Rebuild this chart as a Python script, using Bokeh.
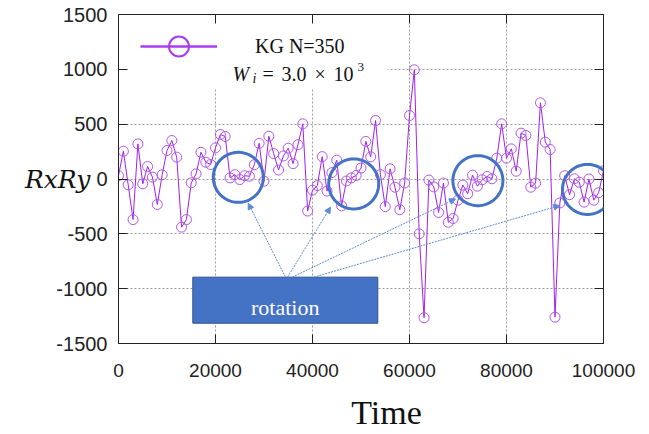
import math
from bokeh.plotting import figure
from bokeh.models import (Range1d, LinearAxis, FixedTicker, BoxAnnotation, Label, Legend,
                          LegendItem, Arrow, NormalHead, ColumnDataSource, PolyAnnotation)
from bokeh.embed import file_html
from bokeh.resources import INLINE

# ---------------- data ----------------
time = list(range(0, 100001, 1000))
rxry = [30, 253, -53, -370, 320, -44, 114, 17, -232, 38,
        260, 351, 199, -439, -370, -35, 47, 244, 153, 132,
        284, 406, 388, 10, 40, -5, 30, 25, 130, 325,
        -20, 390, 232, 82, 210, 281, 140, 313, 503, -292,
        -102, -60, 204, -110, 58, 172, -245, -18, 10, 32,
        100, 343, 202, 533, 40, -252, 93, -75, -280, -36,
        579, 996, -500, -1265, -10, -72, -305, -37, -395, -360,
        -193, -55, -135, 35, -65, -7, 23, 2, 190, 503,
        190, 275, 71, 418, 397, -75, -38, 695, 336, 269,
        -1260, -218, 30, -143, 2, -29, -211, 0, -193, -125, 75]
x_ticks = [0, 20000, 40000, 60000, 80000, 100000]
y_ticks = [-1500, -1000, -500, 0, 500, 1000, 1500]
x_title = "Time"
y_title = "RxRy"
series_label = "KG N=350"
annotation_text = "rotation"
# rotation windows (centres of the blue rings)
ring_x = [24700, 48500, 74100, 96700]
ring_y = [15, -45, -15, -95]

# ---------------- figure ----------------
p = figure(width=649, height=434, x_range=Range1d(0, 100000), y_range=Range1d(-1500, 1500),
           output_backend="svg", toolbar_location=None,
           min_border_left=118, min_border_right=46, min_border_top=14, min_border_bottom=91,
           background_fill_color="white", border_fill_color="white")
p.outline_line_color = "#222222"
p.outline_line_width = 1

xt = FixedTicker(ticks=x_ticks)
yt = FixedTicker(ticks=y_ticks)

def style_axis(ax, font_size, standoff):
    ax.axis_line_color = "#222222"
    ax.major_tick_line_color = "#222222"
    ax.major_tick_in = 9
    ax.major_tick_out = 0
    ax.minor_tick_in = 0
    ax.minor_tick_out = 0
    ax.major_label_text_font = "Liberation Sans"
    ax.major_label_text_font_size = font_size
    ax.major_label_text_color = "#222222"
    ax.major_label_standoff = standoff

xa = p.xaxis[0]
ya = p.yaxis[0]
xa.ticker = xt
ya.ticker = yt
xa.major_label_overrides = {t: str(t) for t in x_ticks}
ya.major_label_overrides = {t: str(t) for t in y_ticks}
style_axis(xa, "19px", 20)
style_axis(ya, "20px", 11)

xa.axis_label = "\u00a0" * 6 + x_title
xa.axis_label_text_font = "Liberation Serif"
xa.axis_label_text_font_size = "34px"
xa.axis_label_text_font_style = "normal"
xa.axis_label_text_color = "#111111"
xa.axis_label_standoff = 14

ya.axis_label = y_title
ya.axis_label_orientation = "horizontal"
ya.axis_label_text_font = "DejaVu Serif"
ya.axis_label_text_font_size = "25px"
ya.axis_label_text_font_style = "italic"
ya.axis_label_text_color = "#111111"
ya.axis_label_standoff = -37

top_ax = LinearAxis(ticker=xt)
right_ax = LinearAxis(ticker=yt)
for ax in (top_ax, right_ax):
    style_axis(ax, "0px", 0)
p.add_layout(top_ax, "above")
p.add_layout(right_ax, "right")

p.xgrid.ticker = xt
p.ygrid.ticker = yt
for g in (p.xgrid[0], p.ygrid[0]):
    g.grid_line_color = "#9a9a9a"
    g.grid_line_dash = "2 2"
    g.grid_line_width = 1

# white key area hiding the grid
p.add_layout(BoxAnnotation(left=300, right=55470, top=1490, bottom=825,
                           fill_color="white", fill_alpha=1, line_color=None, level="underlay"))

# ---------------- series ----------------
src = ColumnDataSource(dict(time=time, rxry=rxry))
p.line("time", "rxry", source=src, line_color="#a020f0", line_width=1)
p.scatter("time", "rxry", source=src, marker="circle", size=10, fill_color=None,
          line_color="#b455ec", line_width=1)

# ---------------- key ----------------
nan = float("nan")
key_src = ColumnDataSource(dict(x=[nan], y=[nan]))
leg_line = p.line("x", "y", source=key_src, line_color="#a83cf0", line_width=2.5)
leg_circ = p.scatter("x", "y", source=key_src, marker="circle", fill_color=None,
                     line_color="#a83cf0", line_width=2)
legend = Legend(items=[LegendItem(label=series_label, renderers=[leg_line, leg_circ])],
                location=(22, 272), glyph_width=77, glyph_height=50, label_height=50,
                label_standoff=38, padding=0, margin=0, spacing=0,
                border_line_color=None, background_fill_alpha=0,
                label_text_font="Liberation Serif", label_text_font_size="20px",
                label_text_baseline="alphabetic", label_text_color="#111111")
p.add_layout(legend)

serif = "Liberation Serif"
def lab(x, y, text, size, style="normal", color="#111111", align="left", font=serif):
    p.add_layout(Label(x=x, y=y, text=text, text_font=font, text_font_size=size,
                       text_font_style=style, text_color=color, text_align=align,
                       text_baseline="alphabetic"))

lab(23500, 953, "W", "20px", "italic")
lab(27630, 916, "i", "14px", "italic")
lab(29690, 953, "=", "20px")
lab(33600, 953, "3.0", "20px")
lab(40400, 953, "\u00d7", "20px")
lab(44350, 953, "10", "20px")
lab(49280, 1017, "3", "13px")

# ---------------- rotation annotation ----------------
for cx, cy in zip(ring_x, ring_y):
    n = 90
    rx, ry = 25 * 206.2, 25 * 9.119
    xs = [cx + rx * math.cos(2 * math.pi * k / n) for k in range(n)]
    ys = [cy + ry * math.sin(2 * math.pi * k / n) for k in range(n)]
    p.add_layout(PolyAnnotation(xs=xs, ys=ys, fill_alpha=0, line_color="#4472c4",
                                line_alpha=1, line_width=3))

p.add_layout(BoxAnnotation(left=15320, right=53466, top=-895, bottom=-1315,
                           fill_color="#4472c4", fill_alpha=1, line_color="#2f528f",
                           line_alpha=1, line_width=1, level="annotation"))
lab(34373, -1169, annotation_text, "22px", color="white", align="center")

arrow_start = [(34435, -895), (34847, -895), (35817, -895), (40270, -895)]
arrow_end = [(26744, -221), (43714, -257), (69489, -181), (90996, -242)]
for (xs_, ys_), (xe, ye) in zip(arrow_start, arrow_end):
    p.add_layout(Arrow(x_start=xs_, y_start=ys_, x_end=xe, y_end=ye,
                       line_color="#5b8bd6", line_width=1, line_dash="2 1",
                       end=NormalHead(size=6, fill_color="#5b8bd6", line_color="#5b8bd6")))

open("out.html", "w").write(file_html(p, INLINE))
